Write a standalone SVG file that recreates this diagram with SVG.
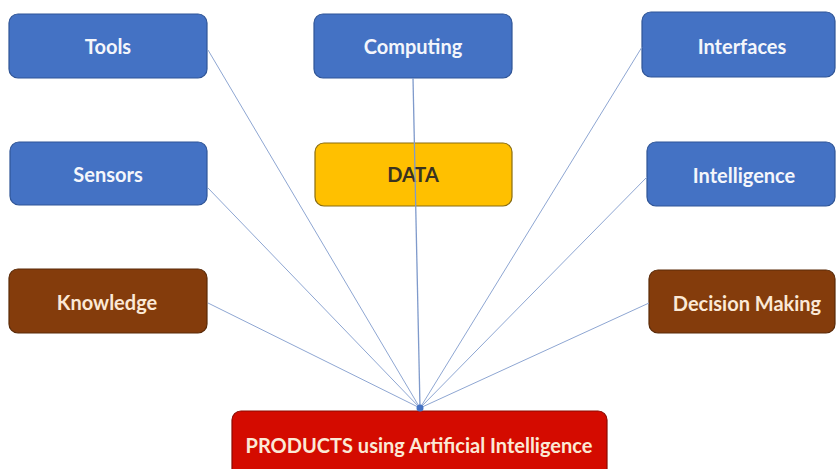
<svg xmlns="http://www.w3.org/2000/svg" width="836" height="469" viewBox="0 0 836 469">
<style>
.box{stroke-width:1.2}
.blue{fill:#4472c4;stroke:#2f5597}
.gold{fill:#ffc000;stroke:#8a6d10}
.brown{fill:#843c0c;stroke:#5a2a08}
.red{fill:#d40b00;stroke:#8b0a00}
.t{font-family:Lato,"Open Sans",sans-serif;font-size:20px;font-weight:bold;text-anchor:middle;dominant-baseline:central}
.w{fill:#f4f6fb}
.c{fill:#fbe9d6}
.d{fill:#3a3320}
.ln{stroke:#8ea6d2;stroke-width:1;fill:none}
</style>
<rect width="836" height="469" fill="#ffffff"/>
<g id="tools"><rect class="box blue" x="9" y="14" width="198" height="64" rx="9"/><text class="t w" x="108" y="46">Tools</text></g>
<g id="computing"><rect class="box blue" x="314" y="14" width="198" height="64" rx="9"/><text class="t w" x="413" y="46">Computing</text></g>
<g id="interfaces"><rect class="box blue" x="642" y="12" width="193" height="65" rx="9"/><text class="t w" x="742" y="46">Interfaces</text></g>
<g id="sensors"><rect class="box blue" x="10" y="142" width="197" height="63" rx="9"/><text class="t w" x="108" y="174">Sensors</text></g>
<g id="data"><rect class="box gold" x="315" y="143" width="197" height="63" rx="9"/><text class="t d" x="413" y="174">DATA</text></g>
<g id="intelligence"><rect class="box blue" x="647" y="142" width="188" height="64" rx="9"/><text class="t w" x="744" y="175">Intelligence</text></g>
<g id="knowledge"><rect class="box brown" x="9" y="269" width="198" height="64" rx="9"/><text class="t c" x="107" y="302">Knowledge</text></g>
<g id="decision-making"><rect class="box brown" x="649" y="270" width="186" height="63" rx="9"/><text class="t c" x="747" y="303">Decision Making</text></g>
<g id="products"><rect class="box red" x="232" y="411" width="375" height="70" rx="9"/><text class="t c" x="419" y="445">PRODUCTS using Artificial Intelligence</text></g>
<g id="connectors">
<line class="ln" x1="208" y1="50" x2="420" y2="408"/>
<line class="ln" x1="208" y1="188" x2="420" y2="408"/>
<line class="ln" x1="208" y1="303" x2="420" y2="408"/>
<line class="ln" x1="413" y1="78" x2="420" y2="408" style="stroke:#7f9acb;stroke-width:1.3"/>
<line class="ln" x1="642" y1="47" x2="420" y2="408"/>
<line class="ln" x1="647" y1="177" x2="420" y2="408"/>
<line class="ln" x1="649" y1="303" x2="420" y2="408"/>
<circle cx="420" cy="408" r="3.5" fill="#4472c4"/>
</g>
</svg>
